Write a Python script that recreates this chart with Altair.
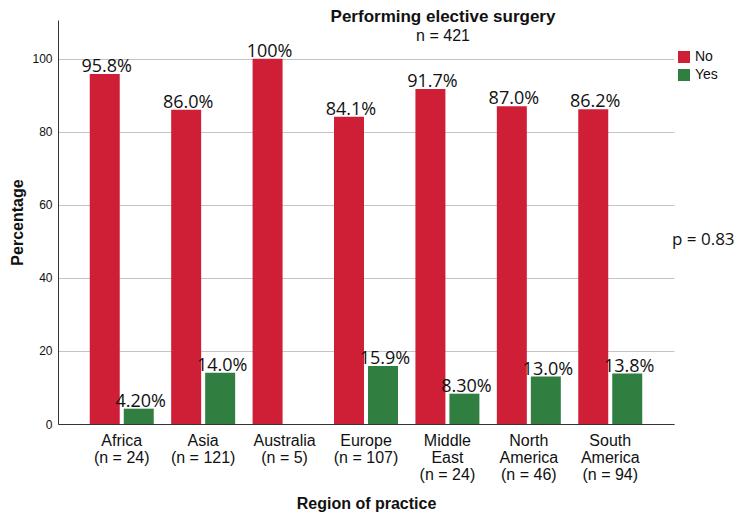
import altair as alt
import pandas as pd

regions = ["Africa|(n = 24)", "Asia|(n = 121)", "Australia|(n = 5)", "Europe|(n = 107)",
           "Middle|East|(n = 24)", "North|America|(n = 46)", "South|America|(n = 94)"]
no_pct = [95.8, 86.0, 100.0, 84.1, 91.7, 87.0, 86.2]
no_labels = ["95.8%", "86.0%", "100%", "84.1%", "91.7%", "87.0%", "86.2%"]
yes_pct = [4.2, 14.0, None, 15.9, 8.3, 13.0, 13.8]
yes_labels = ["4.20%", "14.0%", "", "15.9%", "8.30%", "13.0%", "13.8%"]
responses = ["No", "Yes"]
colors = ["#CF1F37", "#317F40"]
y_ticks = [0, 20, 40, 60, 80, 100]
p_text = "p = 0.83"

rows = []
for r, v, l in zip(regions, no_pct, no_labels):
    rows.append({"region": r, "resp": "No", "pct": v, "label": l})
for r, v, l in zip(regions, yes_pct, yes_labels):
    if v is not None:
        rows.append({"region": r, "resp": "Yes", "pct": v, "label": l})
df = pd.DataFrame(rows)

x_enc = alt.X("region:N", sort=regions,
              scale=alt.Scale(paddingInner=0.214, paddingOuter=0.39),
              axis=alt.Axis(title="Region of practice", labelAngle=0, ticks=False,
                            labelExpr="split(datum.label, '|')", labelPadding=8,
                            labelLineHeight=17, labelFontSize=16, labelColor="#111",
                            labelFont="Liberation Sans", domainColor="#333",
                            titleFont="Liberation Sans", titleFontSize=16,
                            titleFontWeight="bold", titleColor="#111",
                            titleY=84, titleBaseline="alphabetic"))
xo_enc = alt.XOffset("resp:N", sort=responses,
                     scale=alt.Scale(paddingInner=0.118, paddingOuter=0))
y_enc = alt.Y("pct:Q", scale=alt.Scale(domain=[0, 110.6], nice=False, zero=True),
              axis=alt.Axis(title="Percentage", values=y_ticks, ticks=False,
                            labelPadding=6, labelFontSize=12, labelColor="#111",
                            labelFont="Liberation Sans", gridColor="#C4C4C4",
                            gridWidth=1, domainColor="#333",
                            titleFont="Liberation Sans", titleFontSize=16,
                            titleFontWeight="bold", titleColor="#111",
                            titleAngle=270, titleX=-41, titleY=202,
                            titleAlign="center", titleBaseline="middle"))

bars = alt.Chart(df).mark_bar().encode(
    x=x_enc, xOffset=xo_enc, y=y_enc,
    color=alt.Color("resp:N", sort=responses,
                    scale=alt.Scale(domain=responses, range=colors),
                    legend=alt.Legend(title=None, orient="none", legendX=619, legendY=30,
                                      symbolType="square", symbolSize=144,
                                      symbolStrokeWidth=0, labelFontSize=14,
                                      labelFont="Liberation Sans", labelColor="#111",
                                      rowPadding=4, labelOffset=4, padding=0)),
)

labels = alt.Chart(df).mark_text(font="Open Sans", fontSize=18, baseline="alphabetic",
                                 dy=-2, dx=2, color="#111").encode(
    x=x_enc, xOffset=xo_enc, y=y_enc, text="label:N")

pnote = alt.Chart(pd.DataFrame({"t": [p_text]})).mark_text(
    font="Open Sans", fontSize=17, align="left", baseline="middle", color="#111"
).encode(x=alt.value(614), y=alt.value(220), text="t:N")

chart = alt.layer(bars, labels, pnote).properties(
    width=616, height=404,
    title=alt.TitleParams(text="Performing elective surgery", subtitle="n = 421",
                          anchor="middle", dx=77, offset=-25,
                          font="Liberation Sans", fontSize=17, fontWeight="bold",
                          color="#111", subtitleFont="Liberation Sans",
                          subtitleFontSize=16, subtitleColor="#111",
                          subtitlePadding=2),
    autosize=alt.AutoSizeParams(type="none"),
    padding={"left": 50, "top": 12, "right": 62, "bottom": 89},
).configure_view(stroke=None)

chart.save("out.html", embed_options={"renderer": "svg", "actions": False})
